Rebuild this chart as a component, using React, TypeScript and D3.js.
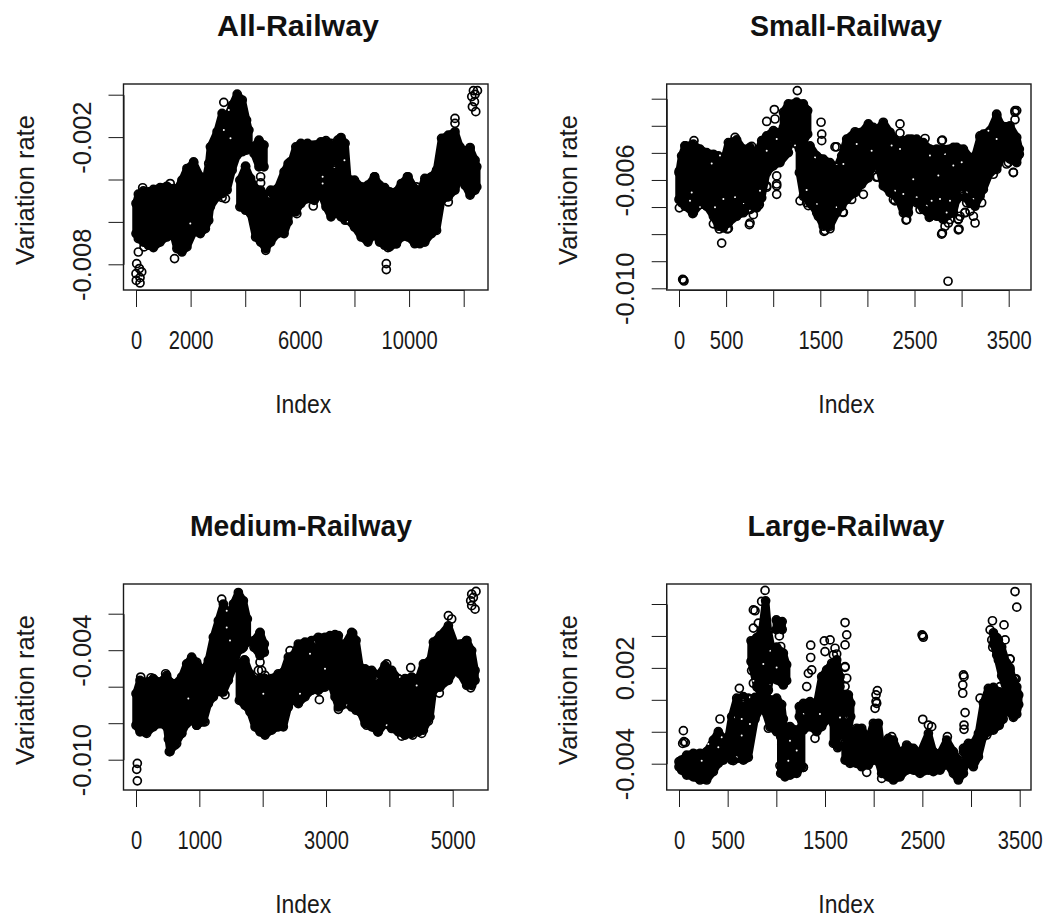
import * as d3 from "d3";
import { useLayoutEffect, useRef } from "react";

// variation rates are kept in thousandths; null splits a panel into separate clouds
const allIndex = [0, 86, 270, 454, 638, 883, 1129, 1374, 1497, 1681, 1865, 2110, 2356, 2540, 2663, 2724, 2969, 3153, 3337, 3521, 3706, 3890, 4049, 4135, null,
  3804, 4012, 4196, 4380, 4564, 4749, 4933, 5178, 5423, 5571, 5669, 5853, 6037, 6282, 6528, 6773, 6957, 7141, 7264, 7387, 7509, 7656, 7755, 8000, 8245, 8491, 8736, 8920, 9104, 9288, 9533, 9718, 9963, 10209, 10393, 10577, 10822, 11006, 11190, 11436, 11681, 11865, 12049, 12233, 12417, 12479, null,
  4319, 4503, 4687];
const allUpper = [-5.13, -4.69, -4.54, -4.58, -4.47, -4.38, -4.32, -4.43, -4.47, -4.03, -3.48, -3.21, -3.87, -4.06, -3.24, -2.46, -1.75, -0.88, -1.04, -0.49, 0.03, -0.25, -1.2, -1.67, null,
  -4.03, -3.4, -3.95, -4.43, -4.5, -4.74, -4.5, -4.43, -3.64, -3.25, -3.25, -2.46, -2.3, -2.3, -2.38, -2.22, -2.17, -2.3, -3.56, -2.14, -2.02, -2.3, -3.95, -4.03, -4.35, -4.27, -3.87, -4.27, -4.38, -4.58, -4.58, -4.19, -3.87, -4.43, -4.58, -3.95, -3.87, -3.56, -2.06, -1.91, -1.75, -2.46, -2.65, -2.54, -3.09, -3.4, null,
  -2.46, -2.14, -2.38];
const allLower = [-6.55, -6.79, -6.95, -7.1, -7.21, -6.95, -6.71, -6.63, -7.26, -7.42, -7.18, -6.47, -6.55, -6.32, -5.92, -5.29, -4.82, -4.66, -4.5, -3.56, -2.85, -2.69, -2.61, -2.38, null,
  -5.29, -5.45, -5.61, -6.71, -6.95, -7.26, -6.95, -6.55, -6.55, -6.0, -5.29, -5.53, -5.13, -4.9, -4.98, -4.66, -5.29, -5.76, -5.61, -5.61, -5.76, -5.92, -5.92, -6.24, -6.71, -6.95, -6.55, -6.95, -7.1, -7.18, -7.03, -6.71, -6.71, -7.03, -7.03, -6.95, -6.55, -6.4, -4.98, -4.82, -4.5, -3.87, -4.27, -4.74, -4.5, -4.35, null,
  -2.77, -3.4, -3.4];
const allLooseIndex = [86, 294, 25, 123, 0, 209, 147, 147, 10, 1411, 4749, 9166, 9166, 9227, 9533, 9939, 8736, 10270, 11436, 11681, 11681, 12356, 12503, 12295, 12393, 12319, 12442, 12417, 3276, 3153, 3215, 5890, 6491, 7485, 7485, 7485, 12233, 5644, 2110, 245, 1252, 4012, 4564, 4564];
const allLooseRate = [-7.42, -7.18, -7.97, -8.2, -8.44, -8.36, -8.63, -8.88, -8.76, -7.73, -7.34, -7.97, -8.25, -7.21, -7.03, -3.87, -3.87, -4.35, -5.06, -1.12, -1.35, 0.19, 0.19, -0.09, -0.33, -0.57, -0.8, 0.02, -4.9, -4.85, -0.36, -5.61, -5.25, -2.06, -2.46, -2.85, -2.49, -3.17, -3.17, -4.39, -4.19, -3.37, -3.87, -4.16];
const allGapIndex = [3399, 3215, 3460, 1988, 4871, 7264, 6834, 6834, 7755, 7632];
const allGapRate = [-0.72, -1.67, -2.06, -6.08, -4.82, -3.4, -4.19, -3.87, -6.0, -3.09];

const smallIndex = [0, 28, 64, 152, 223, 294, 365, 418, 471, 524, 612, 683, 754, 825, 878, 931, 1002, 1072, 1161, null,
  1108, 1161, 1249, 1320, 1366, null,
  1278, 1320, 1391, 1462, 1532, 1603, 1674, 1727, 1780, 1869, 1939, 2010, 2063, 2099, 2169, 2240, 2329, 2382, 2435, 2470, 2523, 2594, 2665, 2736, 2806, 2913, 2948, 3019, 3090, 3143, 3196, 3231, 3302, 3373, 3426, 3514, 3585, 3613];
const smallUpper = [-5.73, -5.11, -4.74, -4.68, -4.86, -4.99, -5.05, -5.11, -5.36, -4.62, -4.52, -4.86, -4.8, -5.05, -4.55, -4.37, -4.18, -4.24, -4.74, null,
  -3.5, -3.19, -3.13, -3.19, -3.44, null,
  -4.86, -4.74, -4.74, -5.11, -5.23, -5.36, -5.54, -5.11, -4.49, -4.22, -4.24, -3.93, -4.06, -4.18, -3.87, -4.24, -4.62, -4.55, -4.49, -4.49, -4.49, -4.62, -4.86, -4.86, -4.86, -4.8, -4.8, -4.86, -5.17, -5.11, -4.43, -4.31, -4.18, -3.62, -4.0, -4.0, -4.43, -4.86];
const smallLower = [-6.72, -6.84, -6.97, -7.21, -6.91, -6.97, -7.34, -7.71, -7.77, -7.59, -7.34, -7.21, -7.09, -7.03, -6.66, -5.73, -5.48, -5.36, -4.99, null,
  -4.06, -4.24, -4.68, -4.62, -4.31, null,
  -5.73, -6.6, -6.84, -7.21, -7.71, -7.71, -7.21, -6.97, -6.72, -6.47, -6.16, -5.92, -5.36, -5.23, -6.22, -6.47, -6.72, -7.21, -7.21, -6.35, -6.84, -7.09, -7.34, -7.34, -7.46, -7.21, -6.72, -6.6, -6.84, -6.97, -6.6, -6.35, -5.73, -5.61, -5.11, -5.23, -5.36, -5.05];
const smallLooseIndex = [1256, 1508, 1515, 1515, 1656, 1674, 2346, 2346, 931, 1012, 1019, 46, 53, 39, 2856, 453, 2796, 2973, 1539, 1603, 2417, 2106, 2063, 2116, 4, 145, 365, 754, 747, 513, 3567, 3585, 3567, 3550, 3497, 2796, 2612, 2559, 2665, 2913, 2877, 2966, 3037, 3143, 3213, 3090, 2417, 1037, 1037, 1037, 931, 853, 789, 683, 612, 1355, 1408, 1479, 1738, 1833, 1957, 2276, 3337, 3, 64, 159, 595, 772, 2860, 2824, 2983, 3054, 3125, 428, 524, 842, 577, 665, 577, 630, 1037, 931, 1550, 1745, 1373, 1285, 2410, 2657, 2788, 2965, 2965, 3036, 3549, 3478, 2098, 2080, 2293, 2788, 3372, 3567, 3195];
const smallLooseRate = [-2.7, -3.87, -4.31, -4.55, -4.78, -4.78, -3.93, -4.27, -3.84, -3.4, -3.75, -9.69, -9.73, -9.67, -9.74, -8.33, -7.96, -7.81, -7.9, -7.8, -7.46, -5.88, -5.48, -5.61, -7.03, -7.24, -7.62, -7.59, -7.65, -7.81, -3.44, -3.44, -3.77, -5.73, -5.36, -4.53, -4.47, -7.09, -7.34, -6.97, -7.46, -7.46, -7.21, -7.59, -6.84, -7.15, -7.09, -5.85, -6.22, -6.53, -6.22, -6.91, -7.28, -6.97, -6.84, -6.84, -6.91, -7.34, -7.19, -6.72, -6.53, -6.72, -5.79, -5.67, -4.74, -4.55, -4.43, -4.76, -7.59, -7.71, -7.34, -6.84, -7.34, -7.81, -7.79, -6.95, -7.32, -7.07, -6.64, -6.83, -6.15, -6.27, -7.87, -7.2, -6.95, -6.77, -7.48, -7.38, -8.0, -7.44, -7.84, -7.2, -5.72, -5.41, -5.9, -5.53, -6.77, -4.55, -3.57, -3.5, -4.37];
const smallGapIndex = [1886, 2045, 2257, 2346, 2487, 2664, 2753, 2824, 2912, 3001, 2682, 2771, 2877, 3001, 3054, 3124, 3372, 3284, 2381, 2293, 2523, 2629, 2841, 135, 347, 435, 471, 595, 683, 754, 931, 1037, 1232, 1444, 1745, 1674, 1355, 1462, 1674, 117, 223, 382, 860];
const smallGapRate = [-4.67, -4.92, -4.73, -4.86, -5.97, -5.1, -5.84, -5.04, -5.47, -5.35, -6.77, -6.7, -6.77, -6.46, -6.46, -6.7, -4.49, -4.18, -6.52, -6.4, -6.64, -6.95, -7.2, -6.46, -5.39, -5.1, -6.7, -6.64, -6.86, -7.14, -4.92, -4.49, -4.73, -5.17, -5.41, -5.41, -6.37, -6.89, -7.01, -6.77, -7.01, -7.01, -6.4];

const mediumIndex = [0, 63, 168, 274, 379, 484, 537, 616, 721, 800, 879, 958, 1063, 1142, 1221, 1300, 1379, 1458, 1537, 1616, 1695, 1758, null,
  1632, 1721, 1800, 1879, 1958, 2037, 2142, 2247, 2326, 2405, 2484, 2563, 2668, 2774, 2879, 2984, 3063, 3142, 3195, 3247, 3300, 3405, 3474, 3537, 3616, 3721, 3826, 3931, 4037, 4142, 4247, 4353, 4458, 4537, 4642, 4695, 4800, 4932, 5037, 5116, 5221, 5300, 5353, null,
  1863, 1958, 2026];
const mediumUpper = [-6.38, -5.65, -5.75, -5.56, -5.75, -5.38, -5.75, -5.84, -5.47, -4.75, -4.38, -4.66, -5.2, -4.56, -3.29, -2.38, -1.47, -2.2, -1.47, -0.84, -1.29, -2.29, null,
  -4.75, -4.56, -5.29, -5.65, -5.56, -5.56, -5.56, -5.29, -5.2, -4.38, -4.29, -3.66, -3.56, -3.47, -3.29, -3.29, -3.2, -3.15, -3.2, -4.38, -3.66, -3.02, -3.47, -4.93, -5.02, -5.11, -5.38, -4.84, -5.11, -5.56, -5.56, -5.47, -5.56, -4.75, -4.56, -3.56, -3.2, -2.66, -3.66, -3.66, -3.47, -4.02, -5.11, null,
  -3.47, -3.02, -3.66];
const mediumLower = [-8.11, -8.47, -8.56, -8.2, -8.02, -8.2, -9.56, -9.2, -8.56, -8.02, -7.84, -8.11, -7.93, -6.93, -6.56, -6.2, -6.29, -5.65, -4.93, -4.02, -3.84, -3.56, null,
  -6.75, -7.02, -7.38, -8.2, -8.47, -8.65, -8.38, -8.2, -8.2, -7.11, -6.56, -6.93, -6.56, -6.2, -6.2, -6.02, -5.65, -6.56, -7.11, -7.02, -6.93, -7.11, -7.29, -7.38, -8.02, -8.2, -8.47, -8.02, -8.29, -8.47, -8.65, -8.56, -8.47, -8.38, -7.65, -6.2, -6.02, -5.65, -5.11, -5.29, -5.93, -5.93, -5.65, null,
  -3.84, -4.29, -4.11];
const mediumLooseIndex = [21, 11, 21, 526, 511, 642, 721, 74, 237, 468, 1353, 1405, 1353, 1958, 1958, 1932, 1984, 2037, 2895, 3421, 4337, 3958, 3642, 3816, 4195, 4368, 4511, 4616, 4789, 4932, 4984, 5300, 5368, 5284, 5353, 5300, 5326, 5221, 5284, 3195, 2432, 1668, 1711, 3116, 3063, 1089, 958, 2353];
const mediumLooseRate = [-10.2, -10.53, -11.16, -9.56, -8.87, -9.11, -8.56, -5.47, -5.51, -5.29, -1.2, -6.44, -6.29, -3.07, -4.66, -5.11, -5.11, -5.38, -6.71, -3.07, -4.96, -4.75, -8.11, -8.47, -8.71, -8.65, -8.56, -7.89, -6.35, -2.11, -2.29, -0.93, -0.78, -1.29, -1.75, -1.56, -1.11, -3.47, -6.06, -7.24, -4.02, -3.93, -4.53, -4.89, -5.56, -7.93, -8.11, -7.38];
const mediumGapIndex = [1432, 1484, 1432, 826, 2010, 2747, 2984, 3800, 4168, 4431, 3958, 3326, 2589, 2826];
const mediumGapRate = [-2.75, -3.47, -1.84, -6.65, -6.38, -4.2, -5.02, -5.56, -5.47, -5.93, -8.11, -7.02, -6.38, -3.56];

const largeIndex = [0, 27, 79, 147, 216, 284, 353, 404, 456, 507, 541, 593, 661, 712, 781, 832, 883, null,
  740, 800, 850, 890, 918, 960, null,
  883, 935, 1003, 1055, 1072, null,
  1000, 1060, null,
  1003, 1072, 1106, null,
  1045, 1089, 1141, 1209, 1260, null,
  1236, 1278, 1346, 1415, 1466, 1517, 1569, 1620, 1654, null,
  1586, 1637, 1689, 1740, 1764, null,
  1706, 1757, 1826, 1877, 1945, 1997, 2048, 2082, 2151, 2202, 2271, 2339, 2408, 2476, 2562, 2613, 2682, 2750, 2819, 2870, 2922, null,
  2922, 2973, 3024, 3076, 3127, 3178, 3230, 3290, 3330, null,
  3230, 3264, 3315, 3366, 3400, 3435, 3470, 3490];
const largeUpper = [-3.87, -3.77, -3.46, -3.35, -3.35, -3.25, -2.52, -1.99, -2.41, -2.31, -1.05, 0.1, 0.2, 0.1, 0.15, 0.15, 0.15, null,
  3.7, 3.9, 4.3, 6.2, 4.3, 3.0, null,
  -0.1, 0, 0.1, -0.3, -1.2, null,
  5.0, 4.9, null,
  3.3, 2.92, 2.2, null,
  -2.31, -1.68, -1.68, -1.89, -1.68, null,
  -0.43, -0.22, -0.11, -0.22, 1.45, 1.87, 2.29, 2.5, 1.45, null,
  -1.47, -0.43, 0.31, 0.31, -0.22, null,
  -2.73, -2.52, -1.78, -1.78, -2.52, -1.47, -1.47, -3.14, -2.41, -2.52, -3.46, -2.83, -3.04, -3.35, -2.1, -3.25, -3.35, -2.52, -3.25, -3.77, -4.29, null,
  -3.04, -2.73, -2.73, -2.1, -0.2, 0.72, 0.78, 0.5, 0.2, null,
  4.2, 3.9, 3.3, 2.3, 2.0, 1.2, 0.8, 0.3];
const largeLower = [-4.19, -4.4, -4.71, -4.82, -5.02, -5.02, -4.5, -3.98, -3.77, -3.56, -3.77, -3.67, -3.77, -3.6, -1.2, -0.6, -0.1, null,
  2.4, 0.8, 0.3, 0.1, 0.6, 2.4, null,
  -0.7, -1.7, -2.0, -1.9, -1.7, null,
  4.4, 4.4, null,
  1.25, 0.93, 1.2, null,
  -4.61, -4.82, -4.71, -4.61, -4.19, null,
  -1.05, -1.89, -1.68, -1.99, -1.68, -1.26, -0.43, 0.2, 0.83, null,
  -2.73, -2.93, -2.31, -1.89, -1.05, null,
  -3.77, -3.98, -3.98, -4.19, -4.08, -3.77, -3.87, -4.61, -4.82, -5.02, -4.82, -4.4, -4.4, -4.61, -4.4, -4.5, -4.4, -3.98, -4.61, -5.02, -4.61, null,
  -3.25, -3.98, -4.19, -3.56, -2.3, -2.0, -1.9, -1.6, -1.2, null,
  3.5, 2.8, 1.5, 0.5, -0.8, -1.1, -0.9, -0.3];
const largeLooseIndex = [45, 51, 38, 65, 421, 620, 764, 764, 815, 884, 849, 764, 764, 1021, 1031, 1045, 935, 969, 918, 1353, 1353, 1329, 1363, 1312, 1278, 1397, 1493, 1552, 1500, 1603, 1586, 1706, 1723, 1706, 1706, 1723, 1706, 1630, 2038, 2024, 2024, 2014, 2031, 1928, 2082, 2504, 2504, 2510, 2497, 2562, 2596, 2757, 2922, 2928, 2915, 2915, 2939, 2928, 2928, 3093, 3161, 3220, 3339, 3196, 3213, 3223, 3281, 3350, 3401, 3401, 3463, 3452, 3470, 3281, 3298, 781, 1055, 1089, 1072, 746, 558, 678, 1037, 1277, 1620, 1705, 1465, 3400, 3452, 2185];
const largeLooseRate = [-1.93, -2.62, -2.73, -2.68, -1.2, 0.72, 5.63, 4.49, 4.8, 6.85, 6.16, 1.98, 1.04, 4.86, 4.0, 3.34, 1.25, 1.45, -1.78, 3.42, 2.65, 1.66, 1.87, 0.83, -4.23, -2.41, 3.69, 3.75, 3.02, 3.23, 2.81, 4.84, 4.07, 3.44, 2.08, 1.35, 0.83, -3.0, 0.58, 0.31, -0.11, -0.53, -0.22, -4.54, -4.92, -1.22, 4.0, 3.92, 4.07, -1.58, -1.68, -2.31, 1.56, 1.45, 0.93, 0.41, -0.8, -1.58, -1.85, 0.1, -2.2, 4.95, 4.69, 4.38, 3.75, 3.29, 3.75, 3.75, 2.54, 1.87, 1.31, 6.78, 5.8, 2.5, 0.83, 5.58, 2.97, 2.24, 0.99, 1.83, -3.81, -3.7, -4.12, -4.23, 2.87, 2.03, 0.47, 2.56, 1.3, -2.31];
const largeGapIndex = [644, 661, 575, 644, 729, 935, 866, 764, 935, 1003, 1140, 1123, 1209, 1277, 1448, 1654, 1671, 1722, 404, 233, 438, 301, 592, 729];
const largeGapRate = [-1.2, -0.05, -1.1, -2.24, -1.51, 3.08, 2.24, 1.2, 0.99, 2.03, -2.56, -3.81, -3.18, -0.89, -0.89, -1.1, -2.56, -1.1, -2.97, -3.81, -2.35, -2.77, -3.6, 0.16];

const allXTicks = [0, 2000, 4000, 6000, 8000, 10000, 12000];
const allXLabels = ["0", "2000", "", "6000", "", "10000", ""];
const allYTicks = [0, -2, -4, -6, -8];
const allYLabels = ["", "-0.002", "", "", "-0.008"];

const smallXTicks = [0, 500, 1000, 1500, 2000, 2500, 3000, 3500];
const smallXLabels = ["0", "500", "", "1500", "", "2500", "", "3500"];
const smallYTicks = [-3, -4, -5, -6, -7, -8, -9, -10];
const smallYLabels = ["", "", "", "-0.006", "", "", "", "-0.010"];

const mediumXTicks = [0, 1000, 2000, 3000, 4000, 5000];
const mediumXLabels = ["0", "1000", "", "3000", "", "5000"];
const mediumYTicks = [-2, -4, -6, -8, -10];
const mediumYLabels = ["", "-0.004", "", "", "-0.010"];

const largeXTicks = [0, 500, 1000, 1500, 2000, 2500, 3000, 3500];
const largeXLabels = ["0", "500", "", "1500", "", "2500", "", "3500"];
const largeYTicks = [6, 4, 2, 0, -2, -4];
const largeYLabels = ["", "", "0.002", "", "", "-0.004"];

const panels = [
  { title: "All-Railway", index: allIndex, upper: allUpper, lower: allLower, looseIndex: allLooseIndex, looseRate: allLooseRate, gapIndex: allGapIndex, gapRate: allGapRate, xTicks: allXTicks, xLabels: allXLabels, yTicks: allYTicks, yLabels: allYLabels },
  { title: "Small-Railway", index: smallIndex, upper: smallUpper, lower: smallLower, looseIndex: smallLooseIndex, looseRate: smallLooseRate, gapIndex: smallGapIndex, gapRate: smallGapRate, xTicks: smallXTicks, xLabels: smallXLabels, yTicks: smallYTicks, yLabels: smallYLabels },
  { title: "Medium-Railway", index: mediumIndex, upper: mediumUpper, lower: mediumLower, looseIndex: mediumLooseIndex, looseRate: mediumLooseRate, gapIndex: mediumGapIndex, gapRate: mediumGapRate, xTicks: mediumXTicks, xLabels: mediumXLabels, yTicks: mediumYTicks, yLabels: mediumYLabels },
  { title: "Large-Railway", index: largeIndex, upper: largeUpper, lower: largeLower, looseIndex: largeLooseIndex, looseRate: largeLooseRate, gapIndex: largeGapIndex, gapRate: largeGapRate, xTicks: largeXTicks, xLabels: largeXLabels, yTicks: largeYTicks, yLabels: largeYLabels },
];

// box corners, the pixels of the first and last ticks on each axis, title placement
const FRAMES = [
  { left: 123.5, right: 488, top: 84, bottom: 290, x0: 136, x1: 463.7, y0: 94.7, y1: 264.3, titleX: 298, titleWidth: 162 },
  { left: 666.7, right: 1031, top: 84, bottom: 290, x0: 679, x1: 1008.7, y0: 98.7, y1: 288.3, titleX: 846, titleWidth: 192 },
  { left: 123.5, right: 488, top: 584, bottom: 790, x0: 136, x1: 452.7, y0: 613.7, y1: 759.7, titleX: 301, titleWidth: 222 },
  { left: 666.7, right: 1031, top: 584, bottom: 790, x0: 679, x1: 1019.7, y0: 604, y1: 763.7, titleX: 846, titleWidth: 197 },
];

const FONT = "'Liberation Sans', Arial, sans-serif";
const INK = "#1a1a1a";

function drawPanel(root, panel, frame) {
  const x = d3
    .scaleLinear()
    .domain([panel.xTicks[0], panel.xTicks[panel.xTicks.length - 1]])
    .range([frame.x0, frame.x1]);
  const y = d3
    .scaleLinear()
    .domain([panel.yTicks[0], panel.yTicks[panel.yTicks.length - 1]])
    .range([frame.y0, frame.y1]);

  const columns = panel.index.map((d, i) => ({
    index: d,
    upper: panel.upper[i],
    lower: panel.lower[i],
  }));

  const band = d3
    .area()
    .defined((d) => d.index !== null)
    .x((d) => x(d.index))
    .y0((d) => y(d.lower))
    .y1((d) => y(d.upper));

  const g = root.append("g").attr("class", "panel");

  // the overplotted part of the cloud saturates to solid black
  g.append("path")
    .attr("d", band(columns))
    .attr("fill", "#000")
    .attr("stroke", "#000")
    .attr("stroke-width", 7.5)
    .attr("stroke-linejoin", "round");

  // specks of paper that show through the overplotting
  g.append("g")
    .selectAll("circle")
    .data(panel.gapIndex.map((d, i) => [d, panel.gapRate[i]]))
    .join("circle")
    .attr("cx", (d) => x(d[0]))
    .attr("cy", (d) => y(d[1]))
    .attr("r", 1)
    .attr("fill", "#fff");

  const points = [];
  columns.forEach((d) => {
    if (d.index === null) return;
    points.push([d.index, d.upper], [d.index, d.lower]);
  });
  panel.looseIndex.forEach((d, i) => points.push([d, panel.looseRate[i]]));

  g.append("g")
    .selectAll("circle")
    .data(points)
    .join("circle")
    .attr("cx", (d) => x(d[0]))
    .attr("cy", (d) => y(d[1]))
    .attr("r", 4)
    .attr("fill", "none")
    .attr("stroke", "#000")
    .attr("stroke-width", 1.7);

  g.append("rect")
    .attr("x", frame.left)
    .attr("y", frame.top)
    .attr("width", frame.right - frame.left)
    .attr("height", frame.bottom - frame.top)
    .attr("fill", "none")
    .attr("stroke", INK)
    .attr("stroke-width", 1.4);

  const xAxis = g
    .append("g")
    .attr("transform", `translate(0,${frame.bottom})`)
    .call(
      d3
        .axisBottom(x)
        .tickValues(panel.xTicks)
        .tickSizeInner(17)
        .tickSizeOuter(0)
        .tickFormat((_, i) => panel.xLabels[i])
    );
  xAxis.selectAll("line").attr("stroke", INK);
  xAxis.select(".domain").attr("stroke", INK);
  xAxis
    .selectAll("text")
    .attr("y", 0)
    .attr("dy", 0)
    .attr("transform", "translate(0,59) scale(0.79,1)")
    .style("font-family", FONT)
    .style("font-size", "25.5px")
    .style("fill", INK);

  const yAxis = g
    .append("g")
    .attr("transform", `translate(${frame.left},0)`)
    .call(
      d3
        .axisLeft(y)
        .tickValues(panel.yTicks)
        .tickSizeInner(15)
        .tickSizeOuter(0)
        .tickFormat((_, i) => panel.yLabels[i])
    );
  yAxis.selectAll("line").attr("stroke", INK);
  yAxis.select(".domain").attr("stroke", INK);
  yAxis
    .selectAll("text")
    .attr("x", 0)
    .attr("y", 0)
    .attr("dy", 0)
    .attr("transform", "translate(-33,0) rotate(-90)")
    .style("text-anchor", "middle")
    .style("font-family", FONT)
    .style("font-size", "25.5px")
    .style("fill", INK);

  g.append("text")
    .attr("x", frame.titleX)
    .attr("y", frame.top - 48)
    .attr("textLength", frame.titleWidth)
    .attr("lengthAdjust", "spacingAndGlyphs")
    .style("text-anchor", "middle")
    .style("font-family", FONT)
    .style("font-weight", "bold")
    .style("font-size", "29px")
    .style("fill", "#111")
    .text(panel.title);

  g.append("text")
    .attr("transform", `translate(${(frame.left + frame.right) / 2 - 2.5},${frame.bottom + 123}) scale(0.9,1)`)
    .style("text-anchor", "middle")
    .style("font-family", FONT)
    .style("font-size", "25.5px")
    .style("fill", INK)
    .text("Index");

  g.append("text")
    .attr("transform", `translate(${frame.left - 90},${(frame.top + frame.bottom) / 2 + 3}) rotate(-90)`)
    .style("text-anchor", "middle")
    .style("font-family", FONT)
    .style("font-size", "25.5px")
    .style("fill", INK)
    .text("Variation rate");
}

export default function App() {
  const svgElement = useRef(null);

  useLayoutEffect(function initialize() {
    const root = d3.select(svgElement.current);
    root.selectAll("*").remove();
    panels.forEach((panel, i) => drawPanel(root, panel, FRAMES[i]));
  }, []);

  return (
    <svg
      ref={svgElement}
      width={1048}
      height={922}
      style={{ position: "absolute", left: 0, top: 0, background: "#fff" }}
    ></svg>
  );
}
